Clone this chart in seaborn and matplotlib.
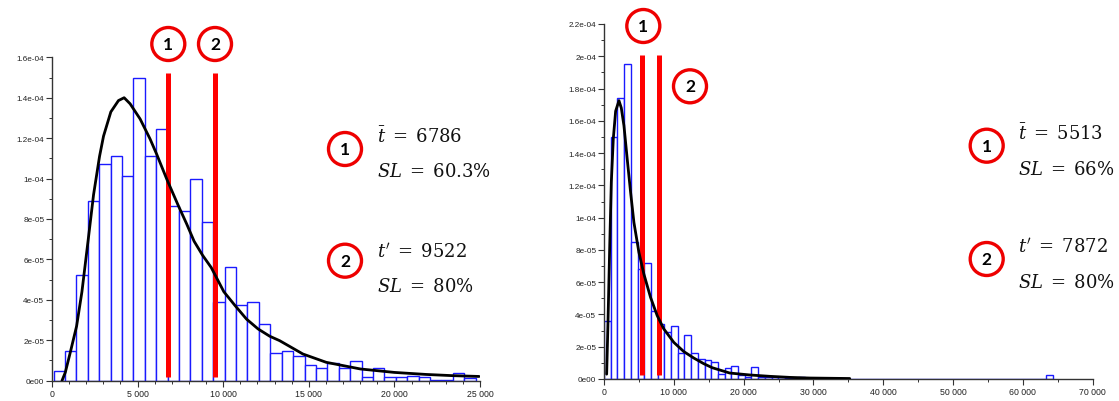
import numpy as np
import pandas as pd
import matplotlib
matplotlib.use("Agg")
import matplotlib.pyplot as plt
from matplotlib.patches import Ellipse
from matplotlib.ticker import MultipleLocator, FuncFormatter
import seaborn as sns

# ---------------- data ----------------
# left histogram: bins of equal width, density values (x 1e-5)
left_bin_start = 97
left_bin_width = 666
left_density = [0.46, 1.49, 5.25, 8.9, 10.7, 11.1, 10.15, 15.0, 11.1, 12.46,
                8.66, 8.42, 9.98, 7.84, 3.91, 5.63, 3.76, 3.91, 2.79, 1.35,
                1.49, 1.24, 0.78, 0.61, 0.87, 0.61, 0.99, 0.165, 0.61, 0.165,
                0.165, 0.25, 0.165, 0.05, 0.05, 0.4, 0.15]

# left fitted density curve (x, density x 1e-5)
left_curve_x = [583, 777, 1068, 1437, 1748, 2097, 2427, 2777, 3010, 3437, 3883,
                4214, 4563, 5146, 5728, 6117, 6700, 7379, 7864, 8300, 8800,
                9300, 9700, 10039, 10699, 11359, 12039, 12718, 13298, 14657,
                16016, 18016, 19996, 21840, 23393, 24947]
left_curve_y = [0.0, 0.41, 1.4, 2.7, 4.4, 6.85, 9.2, 11.1, 12.1, 13.3, 13.86,
                14.0, 13.7, 12.95, 11.96, 11.2, 9.98, 8.66, 7.76, 6.9, 6.2,
                5.6, 4.95, 4.4, 3.71, 3.05, 2.56, 2.2, 1.98, 1.32,
                0.91, 0.58, 0.41, 0.31, 0.25, 0.21]

# right histogram
right_bin_start = 0
right_bin_width = 960
right_density = [3.6, 15.0, 17.4, 19.5, 8.5, 6.8, 7.2, 4.2, 3.4, 2.9,
                 3.3, 1.6, 2.7, 1.6, 1.24, 1.15, 1.05, 0.31, 0.66, 0.79,
                 0.25, 0.15, 0.72, 0.15, 0.1, 0.1, 0.1, 0.05, 0.05, 0.1,
                 0.05, 0.05, 0.05, 0.05, 0.05, 0.05, 0, 0, 0, 0,
                 0, 0, 0, 0, 0, 0, 0, 0, 0, 0,
                 0, 0, 0, 0, 0, 0, 0, 0, 0, 0,
                 0, 0, 0, 0, 0, 0, 0.25]

right_curve_x = [380, 570, 810, 1048, 1333, 1667, 2143, 2476, 2857, 3333, 3810,
                 4286, 5000, 5714, 6667, 7619, 8571, 10000, 11429, 12857,
                 14286, 15500, 18005, 20875, 23745, 26615, 29484, 35200]
right_curve_y = [0.3, 3.5, 8.06, 12.2, 14.9, 16.6, 17.25, 16.8, 15.7, 13.6, 11.57,
                 9.7, 7.85, 6.5, 5.06, 3.93, 3.1, 2.27, 1.7, 1.3,
                 0.95, 0.7, 0.37, 0.25, 0.165, 0.1, 0.06, 0.03]

left_marks = [6786, 9522]
right_marks = [5513, 7872]
left_texts = [(r"$\bar{t}\;=\;6786$", r"$SL\;=\;60.3\%$"),
              (r"$t^{\prime}\;=\;9522$", r"$SL\;=\;80\%$")]
right_texts = [(r"$\bar{t}\;=\;5513$", r"$SL\;=\;66\%$"),
               (r"$t^{\prime}\;=\;7872$", r"$SL\;=\;80\%$")]

# ---------------- style ----------------
sns.set_theme(style="ticks")
plt.rcParams["font.family"] = ["Liberation Sans", "DejaVu Sans"]
plt.rcParams["mathtext.fontset"] = "dejavuserif"

W, H = 1119, 402
fig = plt.figure(figsize=(W / 100, H / 100), dpi=100)
fig.patch.set_facecolor("white")


def px_axes(x0, y0, x1, y1):
    """x0,x1 horizontal pixels; y0 top pixel, y1 bottom pixel."""
    return fig.add_axes([x0 / W, 1 - y1 / H, (x1 - x0) / W, (y1 - y0) / H])


def sci_fmt(v, pos):
    if abs(v) < 1e-12:
        return "0e00"
    m, e = f"{v:.1e}".split("e")
    m = m.rstrip("0").rstrip(".")
    return f"{m}e-{abs(int(e)):02d}"


def thou_fmt(v, pos):
    return f"{int(round(v)):,}".replace(",", " ")


def draw_panel(ax, start, width, dens, cx, cy, marks, mark_top, xmax, ymax,
               xmajor, xminor):
    dens = [float(d) * 1e-5 for d in dens]
    edges = [float(start + width * i) for i in range(len(dens) + 1)]
    centers = [(edges[i] + edges[i + 1]) / 2 for i in range(len(dens))]
    hist_df = pd.DataFrame({"x": centers, "w": dens})
    sns.histplot(data=hist_df, x="x", weights="w", bins=edges, ax=ax,
                 stat="count", color="white", edgecolor="#1a1aff",
                 linewidth=1.0, alpha=1, zorder=2)
    ax.vlines(marks, ymin=ymax * 0.012, ymax=mark_top, colors="#ff0000",
              linewidth=3.6, zorder=3)
    curve_df = pd.DataFrame({"x": cx, "y": [v * 1e-5 for v in cy]})
    sns.lineplot(data=curve_df, x="x", y="y", ax=ax, color="black",
                 linewidth=2.0, zorder=4)
    ax.set_xlim(0, xmax)
    ax.set_ylim(0, ymax)
    ax.set_xlabel("")
    ax.set_ylabel("")
    ax.xaxis.set_major_locator(MultipleLocator(xmajor))
    ax.xaxis.set_minor_locator(MultipleLocator(xminor))
    ax.yaxis.set_major_locator(MultipleLocator(2e-5))
    ax.yaxis.set_minor_locator(MultipleLocator(1e-5))
    ax.yaxis.set_major_formatter(FuncFormatter(sci_fmt))
    ax.xaxis.set_major_formatter(FuncFormatter(thou_fmt))
    for s in ("top", "right"):
        ax.spines[s].set_visible(False)
    for s in ("left", "bottom"):
        ax.spines[s].set_color("#333333")
        ax.spines[s].set_linewidth(1.0)
    ax.tick_params(axis="y", which="major", labelsize=5.9, length=4,
                   width=0.8, color="#333333", pad=1.5, labelcolor="#222222")
    ax.tick_params(axis="y", which="minor", length=2.5, width=0.7,
                   color="#333333")
    ax.tick_params(axis="x", which="major", labelsize=6.3, length=4,
                   width=0.8, color="#333333", pad=2, labelcolor="#222222")
    ax.tick_params(axis="x", which="minor", length=2.5, width=0.7,
                   color="#333333")
    ax.set_facecolor("white")
    ax.grid(False)


ax1 = px_axes(52, 58.3, 480, 381.7)
draw_panel(ax1, left_bin_start, left_bin_width, left_density,
           left_curve_x, left_curve_y, left_marks, 1.52e-4, 25000, 1.6e-4,
           5000, 1000)

ax2 = px_axes(604, 25.0, 1092.7, 380)
draw_panel(ax2, right_bin_start, right_bin_width, right_density,
           right_curve_x, right_curve_y, right_marks, 2.01e-4, 70000, 2.2e-4,
           10000, 5000)


# ---------------- annotations ----------------
def circle_label(xp, yp, label):
    r = 16.5
    e = Ellipse((xp / W, 1 - yp / H), 2 * r / W, 2 * r / H,
                transform=fig.transFigure, facecolor="white",
                edgecolor="#ee0000", linewidth=2.4, zorder=10)
    fig.patches.append(e)
    fig.text(xp / W, 1 - yp / H, label, ha="center", va="center",
             fontsize=12.5, fontweight="bold", family=["Lato", "DejaVu Sans"],
             color="black", zorder=11)


def eq_text(xp, yp, s):
    fig.text(xp / W, 1 - yp / H, s, ha="left", va="center", fontsize=13,
             color="#111111")


# circles over the red lines
circle_label(168.3, 45, "1")
circle_label(215, 45, "2")
circle_label(643.3, 27, "1")
circle_label(690, 87.3, "2")

# side legends
circle_label(345, 150, "1")
circle_label(345, 261.7, "2")
eq_text(376.7, 137, left_texts[0][0])
eq_text(376.7, 172, left_texts[0][1])
eq_text(376.7, 252, left_texts[1][0])
eq_text(376.7, 287, left_texts[1][1])

circle_label(986.7, 146.7, "1")
circle_label(986.7, 260, "2")
eq_text(1018.3, 133.5, right_texts[0][0])
eq_text(1018.3, 170, right_texts[0][1])
eq_text(1018.3, 247, right_texts[1][0])
eq_text(1018.3, 283.5, right_texts[1][1])

fig.savefig("out.png", dpi=100, facecolor="white")
